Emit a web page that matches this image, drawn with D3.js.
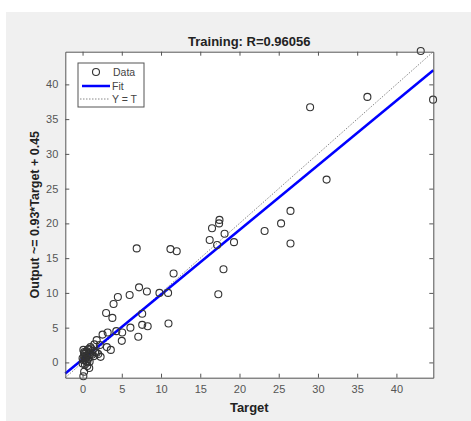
<!DOCTYPE html>
<html>
<head>
<meta charset="utf-8">
<script src="https://cdn.jsdelivr.net/npm/d3@7"></script>
<style>
  body { margin: 0; background: #fff; }
  text { font-family: Arial, "Liberation Sans", sans-serif; }
</style>
</head>
<body>
<div id="chart"></div>
<script>
// data
var target = [43.1, 44.67, 36.3, 29.0, 31.1, 26.5, 25.3, 23.2, 26.5, 17.45, 17.4, 16.5, 18.1, 19.3, 16.2, 17.15, 17.96, 17.3,
  6.9, 11.2, 12.0, 11.6, 7.2, 8.2, 9.8, 10.9, 6.0, 4.5, 3.95, 3.0, 3.8, 7.6, 7.6, 8.3, 10.95, 6.1, 5.05, 5.0, 7.1, 4.3,
  3.2, 2.55, 1.8, 2.2, 3.1, 3.6, 2.3, 1.8, 0.1, 0.2, 0.85, 0.6, 0.0,
  0.1, 0.2, 0.3, 0.5, 0.7, 0.9, 1.1, 1.3, 0.2, 0.4, 0.6, 0.8, 1.0, 1.2, 0.1, 0.3, 0.5, 0.7, 0.9, 1.4, 0.2, 0.4, 0.6, 0.0, 1.6, 2.0, 0.3, 0.8, 1.0, 1.5];
var output = [44.8, 37.8, 38.2, 36.7, 26.3, 21.8, 20.0, 18.9, 17.1, 20.5, 20.0, 19.3, 18.5, 17.3, 17.6, 16.9, 13.4, 9.8,
  16.4, 16.3, 16.0, 12.8, 10.8, 10.2, 10.0, 10.0, 9.7, 9.4, 8.4, 7.1, 6.4, 7.0, 5.4, 5.2, 5.6, 5.0, 4.3, 3.1, 3.7, 4.5,
  4.3, 4.0, 3.2, 2.5, 2.2, 1.8, 0.8, 1.4, -2.0, -1.35, -0.8, -0.5, -0.15,
  1.8, 1.5, 1.2, 1.6, 1.9, 1.4, 2.0, 1.7, 0.9, 0.6, 1.0, 0.7, 1.2, 1.1, 0.3, 0.4, 0.2, 0.5, 0.1, 0.9, 1.3, 0.8, 0.0, 0.6, 1.5, 1.2, -0.3, 1.9, 2.2, 2.6];
var xTicks = [0, 5, 10, 15, 20, 25, 30, 35, 40];
var yTicks = [0, 5, 10, 15, 20, 25, 30, 35, 40];
var axisMin = -2.2, axisMax = 44.7;
var fitSlope = 0.93, fitIntercept = 0.45;

var W = 471, H = 421;
var margin = {top: 51.7, right: 37.7, bottom: 43.3, left: 65.3},
    width = W - margin.left - margin.right,
    height = H - margin.top - margin.bottom;

var root = d3.select("#chart").append("svg")
    .attr("width", W)
    .attr("height", H);

// figure background
root.append("rect")
    .attr("x", 6).attr("y", 12)
    .attr("width", W - 6).attr("height", H - 12)
    .attr("fill", "#f0f0f0");

var svg = root.append("g")
    .attr("transform", "translate(" + margin.left + "," + margin.top + ")");

var x = d3.scaleLinear().domain([axisMin, axisMax]).range([0, width]);
var y = d3.scaleLinear().domain([axisMin, axisMax]).range([height, 0]);

svg.append("rect")
    .attr("width", width).attr("height", height)
    .attr("fill", "#fff");

// Y = T line
svg.append("line")
    .attr("x1", x(axisMin)).attr("y1", y(axisMin))
    .attr("x2", x(axisMax)).attr("y2", y(axisMax))
    .attr("stroke", "#888").attr("stroke-width", 1)
    .attr("stroke-dasharray", "1.5,1.5");

// fit line
var fitLine = d3.line()
    .x(function(d) { return x(d); })
    .y(function(d) { return y(fitSlope * d + fitIntercept); });
svg.append("path")
    .datum([axisMin, axisMax])
    .attr("d", fitLine)
    .attr("fill", "none")
    .attr("stroke", "#0000ff")
    .attr("stroke-width", 2.5);

// data circles
svg.selectAll("circle.pt")
    .data(d3.range(target.length))
    .enter().append("circle")
    .attr("class", "pt")
    .attr("cx", function(i) { return x(target[i]); })
    .attr("cy", function(i) { return y(output[i]); })
    .attr("r", 3.5)
    .attr("fill", "none")
    .attr("stroke", "#333")
    .attr("stroke-width", 1.1);

// axes with inward ticks on all four sides
function styleAxis(g) {
  g.select(".domain").attr("stroke", "#555");
  g.selectAll(".tick line").attr("stroke", "#555");
  g.selectAll(".tick text").attr("fill", "#555").attr("font-size", 11);
}
svg.append("g")
    .attr("transform", "translate(0," + height + ")")
    .call(d3.axisBottom(x).tickValues(xTicks).tickSize(-4).tickSizeOuter(0).tickPadding(8))
    .call(styleAxis);
svg.append("g")
    .call(d3.axisLeft(y).tickValues(yTicks).tickSize(-4).tickSizeOuter(0).tickPadding(7))
    .call(styleAxis);
svg.append("g")
    .call(d3.axisTop(x).tickValues(xTicks).tickSize(-4).tickSizeOuter(0).tickFormat(""))
    .call(styleAxis);
svg.append("g")
    .attr("transform", "translate(" + width + ",0)")
    .call(d3.axisRight(y).tickValues(yTicks).tickSize(-4).tickSizeOuter(0).tickFormat(""))
    .call(styleAxis);

// title and labels
root.append("text")
    .attr("x", margin.left + width / 2).attr("y", 46)
    .attr("text-anchor", "middle")
    .attr("font-size", 13).attr("font-weight", "bold").attr("fill", "#222")
    .text("Training: R=0.96056");
root.append("text")
    .attr("x", margin.left + width / 2).attr("y", 412)
    .attr("text-anchor", "middle")
    .attr("font-size", 13).attr("font-weight", "bold").attr("fill", "#222")
    .text("Target");
root.append("text")
    .attr("transform", "translate(39," + (margin.top + height / 2) + ") rotate(-90)")
    .attr("text-anchor", "middle")
    .attr("font-size", 12.5).attr("font-weight", "bold").attr("fill", "#222")
    .text("Output ~= 0.93*Target + 0.45");

// legend
var leg = svg.append("g").attr("transform", "translate(" + (78 - margin.left) + "," + (63 - margin.top) + ")");
leg.append("rect")
    .attr("width", 66).attr("height", 44)
    .attr("fill", "#fff").attr("stroke", "#555");
leg.append("circle")
    .attr("cx", 18).attr("cy", 9).attr("r", 3.5)
    .attr("fill", "none").attr("stroke", "#333").attr("stroke-width", 1.1);
leg.append("line")
    .attr("x1", 4).attr("x2", 32).attr("y1", 23).attr("y2", 23)
    .attr("stroke", "#0000ff").attr("stroke-width", 2.5);
leg.append("line")
    .attr("x1", 2).attr("x2", 32).attr("y1", 36).attr("y2", 36)
    .attr("stroke", "#888").attr("stroke-width", 1).attr("stroke-dasharray", "1.5,1.5");
var legLabels = ["Data", "Fit", "Y = T"];
leg.selectAll("text.lab")
    .data(legLabels)
    .enter().append("text")
    .attr("class", "lab")
    .attr("x", function(d, i) { return i === 0 ? 35 : 34; })
    .attr("y", function(d, i) { return 13 + i * 13.5; })
    .attr("font-size", 10.5).attr("fill", "#444")
    .text(function(d) { return d; });
</script>
</body>
</html>
